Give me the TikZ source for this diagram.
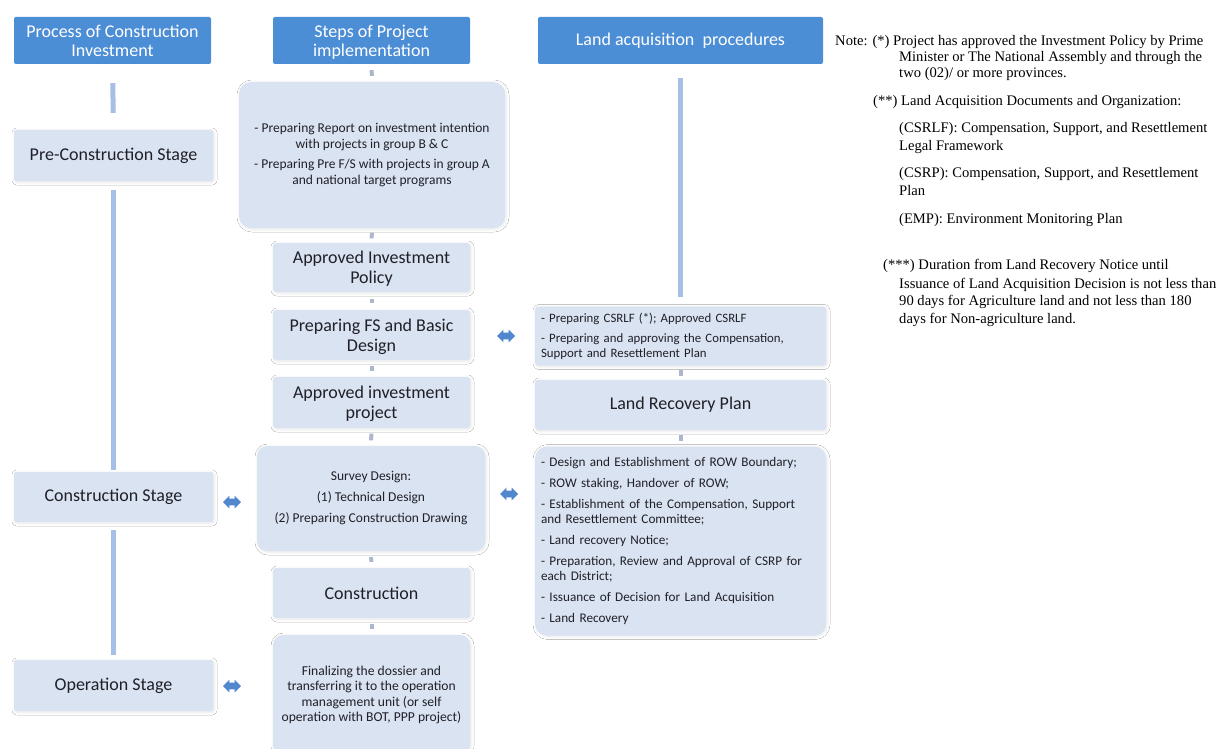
\documentclass[tikz,border=0pt]{standalone}
\usepackage{fontspec}
\setmainfont{Carlito}
\newfontfamily\notefont{Liberation Serif}
\usetikzlibrary{shapes.arrows,shadows.blur}

\definecolor{hdrblue}{RGB}{76,142,214}
\definecolor{boxblue}{RGB}{218,227,241}
\definecolor{linkblue}{RGB}{166,192,229}
\definecolor{stubgray}{RGB}{172,182,204}
\definecolor{arrowblue}{RGB}{80,135,205}
\definecolor{textdark}{RGB}{32,32,40}

\tikzset{
  hdr/.style={fill=hdrblue, text=white, rounded corners=2pt, align=center,
    inner sep=0pt, font=\fontsize{18}{19}\selectfont},
  twoline hdr/.style={hdr, text height=31.5pt, text depth=0pt},
  softbox/.style={fill=boxblue, text=textdark, inner sep=0pt, align=center,
    blur shadow={shadow xshift=1pt, shadow yshift=-1pt, shadow blur radius=3pt, shadow opacity=10}},
  stagebox/.style={softbox, rounded corners=2pt, minimum width=199pt,
    font=\fontsize{18}{20}\selectfont},
  stepbox/.style={softbox, rounded corners=3pt, minimum width=197pt,
    font=\fontsize{18}{20}\selectfont},
  twoline step/.style={stepbox, text height=33pt, text depth=1pt},
  listbox/.style={softbox, rounded corners=12pt,
    font=\fontsize{13.5}{15.5}\selectfont},
  link/.style={draw=linkblue, line width=5pt},
  stub/.style={draw=stubgray, line width=4pt},
  twoway/.style={double arrow, fill=arrowblue, inner xsep=0pt, inner ysep=3.2pt,
    minimum height=18pt, double arrow head extend=3pt},
  note/.style={font=\notefont\fontsize{14.6}{17.6}\selectfont, text=black,
    inner sep=0pt, anchor=base west}
}

\begin{document}
\begin{tikzpicture}[x=1pt,y=-1pt]
\useasboundingbox (0,0) rectangle (1221,749);
\clip (0,0) rectangle (1221,749);
\fill[white] (0,0) rectangle (1221,749);

% column headers
\node[twoline hdr, minimum width=197pt, minimum height=47pt] (h1) at (112.5,40.5)
  {Process of Construction\\Investment};
\node[twoline hdr, minimum width=197pt, minimum height=47pt] (h2) at (371.5,40.5)
  {Steps of Project\\implementation};
\node[hdr, minimum width=285pt, minimum height=47pt] (h3) at (680.5,40.5)
  {Land acquisition~~procedures};

% stages of the investment process
\node[stagebox, minimum height=51pt] (pre) at (113.5,155.5) {Pre-Construction Stage};
\node[stagebox, minimum height=50pt] (cons) at (113.5,497) {Construction Stage};
\node[stagebox, minimum height=51pt] (oper) at (113.5,685.5) {Operation Stage};

% steps of project implementation
\node[listbox, minimum width=266pt, minimum height=146pt] (s1) at (372,155)
  {- Preparing Report on investment intention\\with projects in group B \& C\\[5pt]
   - Preparing Pre F/S with projects in group A\\and national target programs};
\node[twoline step, minimum height=49pt] (s2) at (371.5,267.5) {Approved Investment\\Policy};
\node[twoline step, minimum height=50pt] (s3) at (371.5,335) {Preparing FS and Basic\\Design};
\node[twoline step, minimum height=51pt] (s4) at (371.5,402.5) {Approved investment\\project};
\node[listbox, rounded corners=10pt, minimum width=228pt, minimum height=105pt] (s5) at (371,498.5)
  {Survey Design:\\[5.5pt](1) Technical Design\\[5.5pt](2) Preparing Construction Drawing};
\node[stepbox, minimum height=50pt] (s6) at (371.5,593) {Construction};
\node[listbox, rounded corners=10pt, minimum width=197pt, minimum height=120pt,
  font=\fontsize{13.6}{15.4}\selectfont] (s7) at (371.5,695)
  {Finalizing the dossier and\\transferring it to the operation\\management unit (or self\\operation with BOT, PPP project)};

% land acquisition procedures
\node[softbox, rounded corners=3pt, minimum width=291pt, minimum height=59pt,
  align=left, text width=279pt, font=\fontsize{12.8}{15}\selectfont] (l1) at (680.5,336)
  {- Preparing CSRLF (*); Approved CSRLF\\[5pt]
   - Preparing and approving the Compensation,\\Support and Resettlement Plan};
\node[softbox, rounded corners=3pt, minimum width=291pt, minimum height=50pt,
  font=\fontsize{18}{20}\selectfont] (l2) at (680.5,405) {Land Recovery Plan};
\node[listbox, minimum width=291pt, minimum height=189pt, align=left, text width=279pt,
  font=\fontsize{13.2}{15}\selectfont] (l3) at (680.5,541)
  {- Design and Establishment of ROW Boundary;\\[6pt]
   - ROW staking, Handover of ROW;\\[6pt]
   - Establishment of the Compensation, Support\\and Resettlement Committee;\\[6pt]
   - Land recovery Notice;\\[6pt]
   - Preparation, Review and Approval of CSRP for\\each District;\\[6pt]
   - Issuance of Decision for Land Acquisition\\[6pt]
   - Land Recovery};

% links between the stages
\draw[link, shorten <=19pt, shorten >=17pt] (h1) -- (pre);
\draw[link, shorten <=9pt, shorten >=2pt] (pre) -- (cons);
\draw[link, shorten <=8pt, shorten >=5pt] (cons) -- (oper);
\draw[link, shorten <=14pt, shorten >=9pt] (h3.south) -- (l1.north);

% short stubs between consecutive steps
\draw[stub, shorten <=6pt, shorten >=6pt] (h2.south) -- (s1.north);
\draw[stub, shorten <=4.5pt, shorten >=4.5pt] (s1.south) -- (s2.north);
\draw[stub, shorten <=6.5pt, shorten >=6.5pt] (s2.south) -- (s3.north);
\draw[stub, shorten <=5.5pt, shorten >=5.5pt] (s3.south) -- (s4.north);
\draw[stub, shorten <=5.5pt, shorten >=5.5pt] (s4.south) -- (s5.north);
\draw[stub, shorten <=6pt, shorten >=6pt] (s5.south) -- (s6.north);
\draw[stub, shorten <=5.5pt, shorten >=5.5pt] (s6.south) -- (s7.north);
\draw[stub, shorten <=4pt, shorten >=4pt] (l1.south) -- (l2.north);
\draw[stub, shorten <=5pt, shorten >=5pt] (l2.south) -- (l3.north);

% two-way relations
\node[twoway] (a1) at (506,336) {};
\node[twoway] (a2) at (232,502) {};
\node[twoway] (a3) at (509,494) {};
\node[twoway] (a4) at (232,686) {};

% notes
\node[note] (n0) at (835,46) {Note: (*) Project has approved the Investment Policy by Prime};
\node[note] (n1) at (899,62) {Minister or The National Assembly and through the};
\node[note] (n2) at (899,78) {two (02)/ or more provinces.};
\node[note] (n3) at (873,106) {(**) Land Acquisition Documents and Organization:};
\node[note] (n4) at (899,133) {(CSRLF): Compensation, Support, and Resettlement};
\node[note] (n5) at (899,151) {Legal Framework};
\node[note] (n6) at (899,178) {(CSRP): Compensation, Support, and Resettlement};
\node[note] (n7) at (899,196) {Plan};
\node[note] (n8) at (899,223) {(EMP): Environment Monitoring Plan};
\node[note] (n9) at (883,269.5) {(***) Duration from Land Recovery Notice until};
\node[note] (n10) at (899,288) {Issuance of Land Acquisition Decision is not less than};
\node[note] (n11) at (899,305.5) {90 days for Agriculture land and not less than 180};
\node[note] (n12) at (899,323) {days for Non-agriculture land.};
\end{tikzpicture}
\end{document}
